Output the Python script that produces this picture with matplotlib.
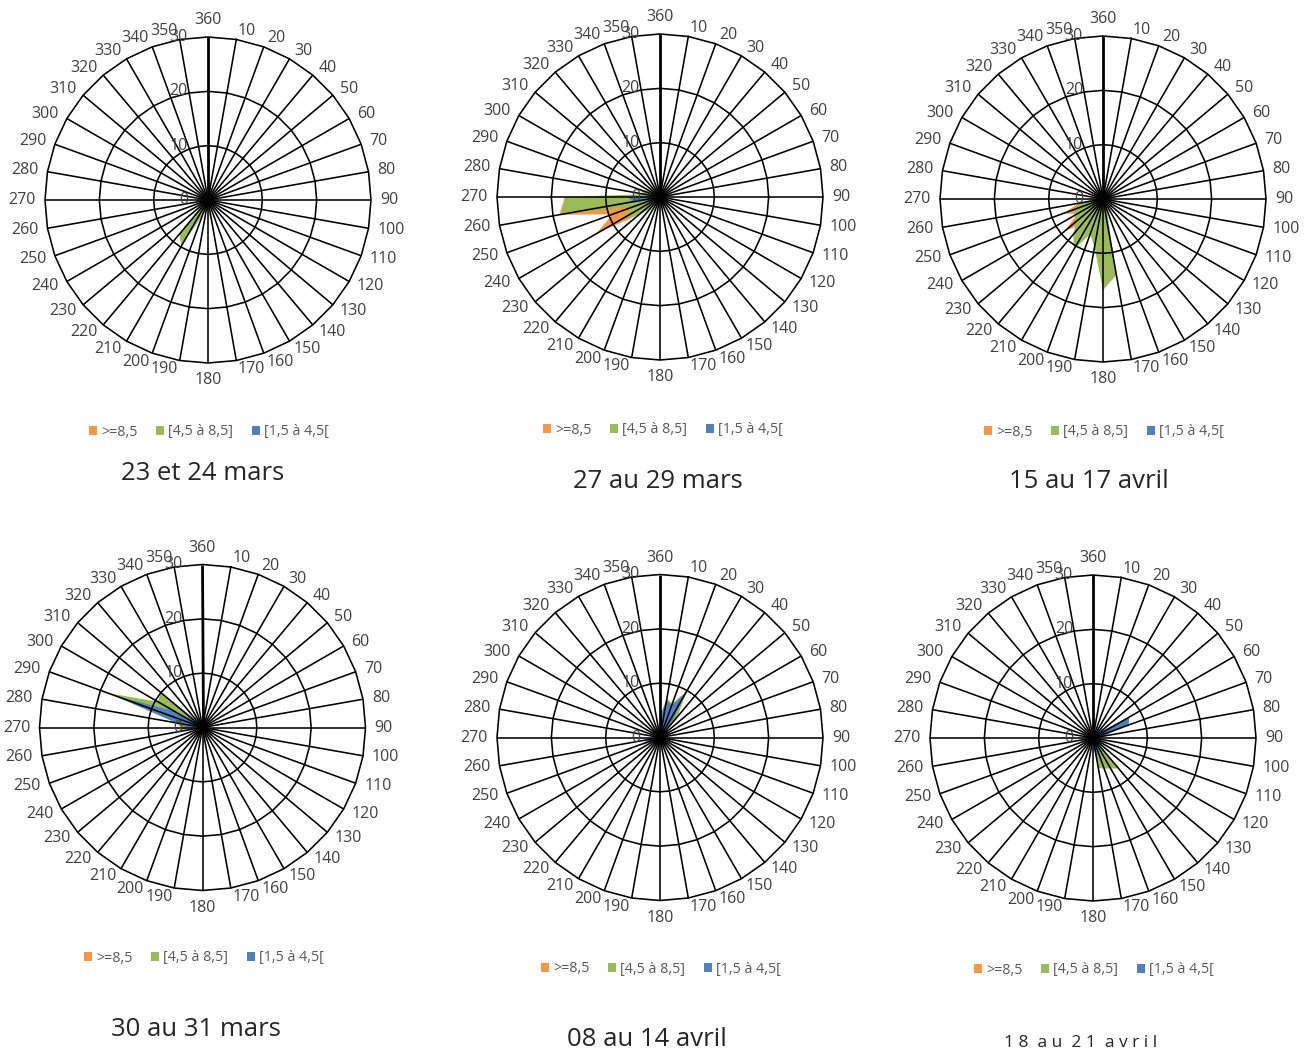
import numpy as np
import matplotlib
matplotlib.use("Agg")
import matplotlib.pyplot as plt
from matplotlib.patches import Patch

plt.rcParams['font.family'] = ['Open Sans', 'DejaVu Sans']

# Wind direction sectors (degrees, clockwise from north)
DIRECTIONS = list(range(10, 361, 10))
RADIAL_TICKS = [0, 10, 20, 30]
SERIES_NAMES = [">=8,5", "[4,5 à 8,5]", "[1,5 à 4,5["]
SERIES_COLORS = ["#F79646", "#9BBB59", "#4F81BD"]

# Frequencies per sector, rows of nine sectors: 10-90 / 100-180 / 190-270 / 280-360
ZERO = [0] * 36

mars_23_24_orange = ZERO
mars_23_24_green = [0, 0, 0, 4.4, 0, 0, 5.4, 0, 0,
                    0, 0, 0, 0, 0, 0, 0, 5.6, 2,
                    2, 3, 9.8, 8.2, 1.5, 0, 0, 0, 0,
                    0, 0, 0, 0, 0, 0, 0, 0, 0]
mars_23_24_blue = [2.8, 1.5, 0, 0, 0, 0, 0, 0, 0,
                   0, 0, 0, 0, 0, 0, 0, 0, 1,
                   1.5, 1.5, 0, 0, 0, 1.7, 1.5, 1.5, 2.4,
                   0, 0, 0, 0, 0, 0, 0, 0, 1]

mars_27_29_orange = [0, 0, 0, 0, 0, 0, 0, 0, 0,
                     0, 0, 0, 0, 0, 0, 0, 0, 0,
                     0, 0, 0, 0, 5, 13.6, 9.3, 18.8, 17.5,
                     0, 0, 0, 0, 0, 0, 0, 0, 0]
mars_27_29_green = [0, 0, 0, 0, 0, 0, 0, 0, 0,
                    0, 0, 0, 0, 0, 0, 0, 0, 0,
                    0, 0, 0, 3, 5, 8.4, 5.3, 18.3, 17.5,
                    3, 4, 2, 0, 0, 0, 0, 0, 0]
mars_27_29_blue = [0, 0, 0, 0, 0, 0, 0, 0, 0,
                   0, 0, 0, 0, 0, 0, 0, 0, 0,
                   0, 0, 0, 0, 0, 1.5, 2, 5, 6,
                   1.5, 0, 0, 0, 0, 0, 0, 0, 0]

avril_15_17_orange = [0, 0, 0, 0, 0, 0, 0, 0, 0,
                      0, 0, 0, 0, 0, 0, 0, 0, 0,
                      0, 0, 0, 6, 9.2, 5.5, 7.8, 4.5, 0,
                      0, 0, 0, 0, 0, 0, 0, 0, 0]
avril_15_17_green = [0, 0, 0, 0, 0, 0, 0, 0, 0,
                     0, 0, 0, 0, 0, 0, 2, 14.2, 16.8,
                     9, 6.9, 10.7, 8.5, 6.5, 6, 5.5, 4.5, 2,
                     0, 0, 0, 0, 0, 0, 0, 0, 0]
avril_15_17_blue = [0, 0, 0, 0, 0, 0, 0, 0, 0,
                    0, 0, 0, 0, 0, 0, 0, 3, 1,
                    1.5, 1.5, 1.5, 0, 0, 2, 0, 0, 0,
                    0, 0, 0, 0, 0, 0, 0, 0, 0]

mars_30_31_orange = ZERO
mars_30_31_green = [0, 0, 0, 0, 0, 0, 0, 0, 0,
                    0, 0, 0, 0, 0, 0, 0, 0, 0,
                    0, 0, 0, 0, 0, 0, 0, 4, 4,
                    5, 18.5, 9.5, 10, 2, 0, 0, 0, 0]
mars_30_31_blue = [0, 0, 0, 0, 0, 0, 0, 0, 0,
                   0, 0, 0, 0, 0, 0, 0, 0, 0,
                   0, 0, 0, 0, 0, 0, 0, 0, 3,
                   4.8, 17, 6, 2, 0, 0, 0, 0, 0]

avril_08_14_orange = ZERO
avril_08_14_green = [7.3, 6.6, 10, 5, 0, 0, 0, 0, 0,
                     0, 0, 0, 0, 0, 0, 0, 0, 0,
                     0, 0, 0, 0, 0, 2, 4.9, 0, 0,
                     0, 0, 0, 0, 0, 0, 0, 0, 4]
avril_08_14_blue = [7, 6.3, 9.5, 3, 0, 0, 0, 0, 0,
                    0, 0, 0, 0, 0, 0, 0, 0, 0,
                    0, 0, 0, 0, 0, 1.5, 4, 2, 0,
                    0, 0, 0, 0, 0, 0, 0, 0, 3.8]

avril_18_21_orange = ZERO
avril_18_21_green = [0, 0, 0, 0, 0, 0, 0, 0, 0,
                     0, 0, 0, 1, 7.3, 6.5, 6, 5.6, 0,
                     0, 0, 0, 0, 0, 0, 0, 0, 0,
                     0, 0, 0, 0, 0, 0, 0, 0, 0]
avril_18_21_blue = [0, 0, 0, 0, 2, 7.7, 7, 2, 0,
                    0, 0, 0, 0, 0, 0, 2, 4.5, 1.5,
                    0, 0, 0, 0, 0, 0, 0, 0, 0,
                    0, 0, 0, 0, 0, 0, 0, 0, 0]

TITLES = ["23 et 24 mars", "27 au 29 mars", "15 au 17 avril",
          "30 au 31 mars", "08 au 14 avril", "1 8  a u  2 1  a v r i l"]
SERIES = [
    (mars_23_24_orange, mars_23_24_green, mars_23_24_blue),
    (mars_27_29_orange, mars_27_29_green, mars_27_29_blue),
    (avril_15_17_orange, avril_15_17_green, avril_15_17_blue),
    (mars_30_31_orange, mars_30_31_green, mars_30_31_blue),
    (avril_08_14_orange, avril_08_14_green, avril_08_14_blue),
    (avril_18_21_orange, avril_18_21_green, avril_18_21_blue),
]

# Layout in pixels: plot centre, legend row, title position, title size
W, H = 1311, 1052
R_PX = 163
LAYOUT = [
    dict(center=(208, 200), legend=(209, 432), title=(203, 473), tsize=18.5),
    dict(center=(660, 197), legend=(663, 430), title=(658, 481), tsize=18.5),
    dict(center=(1103, 199), legend=(1104, 432), title=(1089, 481), tsize=18.5),
    dict(center=(202.5, 727.5), legend=(204, 958), title=(196, 1029), tsize=18.5),
    dict(center=(660, 737.5), legend=(661, 969), title=(647, 1040), tsize=18.5),
    dict(center=(1093, 738), legend=(1094, 970), title=(1081, 1043), tsize=12.5),
]

RMAX = 30
LABEL_R = RMAX * (R_PX + 9) / R_PX
TEXT_COLOR = "#404040"
LABEL_SIZE = 11.5
GRID_LW = 1.15

fig = plt.figure(figsize=(W / 100, H / 100), dpi=100)
fig.patch.set_facecolor("white")

theta = np.deg2rad(DIRECTIONS)
theta_closed = np.append(theta, theta[0])

for title, series, lay in zip(TITLES, SERIES, LAYOUT):
    cx, cy = lay["center"]
    ax = fig.add_axes([(cx - R_PX) / W, (H - cy - R_PX) / H, 2 * R_PX / W, 2 * R_PX / H],
                      projection="polar")
    ax.set_theta_zero_location("N")
    ax.set_theta_direction(-1)
    ax.set_ylim(0, RMAX)
    ax.set_axis_off()

    # filled series, first series at the back
    for k, (vals, color) in enumerate(zip(series, SERIES_COLORS)):
        v = np.asarray(vals, dtype=float)
        ax.fill(theta_closed, np.append(v, v[0]), color=color, lw=0, zorder=1 + k)

    # polygonal gridlines
    for r in RADIAL_TICKS[1:]:
        ax.plot(theta_closed, [r] * len(theta_closed), color="black", lw=GRID_LW,
                zorder=6, clip_on=False)
    for d, t in zip(DIRECTIONS, theta):
        ax.plot([t, t], [0, RMAX], color="black", lw=2.0 if d == 360 else GRID_LW,
                zorder=7, clip_on=False, solid_capstyle="butt")

    # category labels
    for d, t in zip(DIRECTIONS, theta):
        if d == 360:
            ha, va = "center", "bottom"
        elif d == 180:
            ha, va = "center", "top"
        elif d < 180:
            ha, va = "left", "center"
        else:
            ha, va = "right", "center"
        ax.text(t, LABEL_R, str(d), ha=ha, va=va, fontsize=LABEL_SIZE,
                color=TEXT_COLOR, zorder=8)

    # value axis labels
    for v in RADIAL_TICKS:
        ax.annotate(str(v), xy=(0, v), xytext=(-20, 0), textcoords="offset pixels",
                    ha="right", va="center", fontsize=LABEL_SIZE, color=TEXT_COLOR,
                    zorder=8)

    handles = [Patch(facecolor=c, edgecolor="none", label=n)
               for n, c in zip(SERIES_NAMES, SERIES_COLORS)]
    lx, ly = lay["legend"]
    fig.legend(handles=handles, loc="center", bbox_to_anchor=(lx / W, 1 - ly / H),
               ncol=3, frameon=False, fontsize=10.3, handlelength=0.55,
               handleheight=0.55, handletextpad=0.3, columnspacing=1.3,
               labelcolor="#595959")

    tx, ty = lay["title"]
    fig.text(tx / W, 1 - ty / H, title, ha="center", va="center",
             fontsize=lay["tsize"], color="#262626")

fig.savefig("out.png", dpi=100, facecolor="white")
